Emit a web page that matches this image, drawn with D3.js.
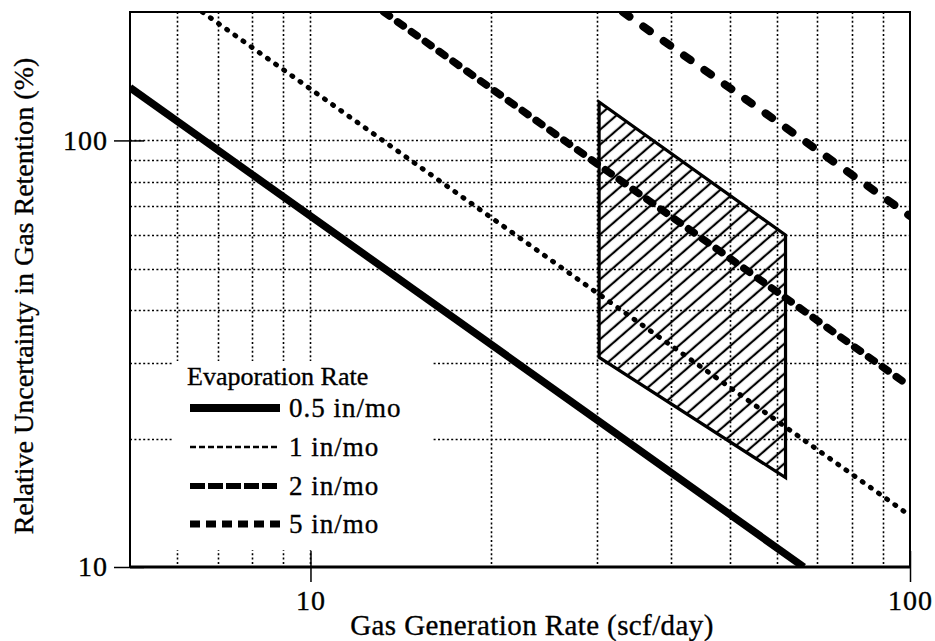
<!DOCTYPE html>
<html>
<head>
<meta charset="utf-8">
<script src="https://cdn.jsdelivr.net/npm/d3@7/dist/d3.min.js"></script>
<style>
  html, body { margin: 0; padding: 0; background: #fff; }
  svg { display: block; }
  text { font-family: "Liberation Serif", "Times New Roman", serif; fill: #000; stroke: #000; stroke-width: 0.35px; }
</style>
</head>
<body>
<svg id="chart" width="935" height="641"></svg>
<script>
// Evaporation rate series: each line is given by its two end points [rate, uncertainty]
const seriesNames = ["0.5 in/mo", "1 in/mo", "2 in/mo", "5 in/mo"];
const series05 = [[5, 133], [66.5, 10]];
const series1  = [[6.6, 200], [100, 13.2]];
const series2  = [[13.25, 200], [100, 26.5]];
const series5  = [[33.2, 200], [100, 66.5]];

// Hatched operating region: x bounds with upper and lower uncertainty at each bound
const regionX     = [30.3, 62];
const regionUpper = [123, 60];
const regionLower = [31, 16.2];

// Axis ticks and grid
const xTickValues = [10, 100];
const yTickValues = [10, 100];
const xGridValues = [6, 7, 8, 9, 10, 20, 30, 40, 50, 60, 70, 80, 90];
const yGridValues = [20, 30, 40, 50, 60, 70, 80, 90, 100];

const xTitle = "Gas Generation Rate (scf/day)";
const yTitle = "Relative Uncertainty in Gas Retention (%)";
const legendTitle = "Evaporation Rate";

const serif = "Liberation Serif";
const svg = d3.select("#chart");
const mLeft = 130, mRight = 910, mTop = 12, mBottom = 567;

const x = d3.scaleLog().domain([5, 100]).range([mLeft, mRight]);
const y = d3.scaleLog().domain([10, 200]).range([mBottom, mTop]);

// Line styles per series
const styles = [
  { width: 7.5, dash: null,    cap: "butt"  },
  { width: 5,   dash: "1,9",   cap: "round" },
  { width: 7.5, dash: "7,10",  cap: "round" },
  { width: 8,   dash: "8,17",  cap: "round" }
];
const legendStyles = [
  { width: 8,   dash: null,   cap: "butt" },
  { width: 2.5, dash: "6,3",  cap: "butt" },
  { width: 6,   dash: "15,3", cap: "butt" },
  { width: 7,   dash: "10,6", cap: "butt" }
];

const defs = svg.append("defs");
defs.append("clipPath").attr("id", "plotClip")
  .append("rect").attr("x", mLeft).attr("y", mTop)
  .attr("width", mRight - mLeft).attr("height", mBottom - mTop);

const hatch = defs.append("pattern")
  .attr("id", "hatch").attr("patternUnits", "userSpaceOnUse")
  .attr("width", 12).attr("height", 11.3)
  .attr("patternTransform", "rotate(-41)");
hatch.append("line").attr("x1", 0).attr("y1", 5.6).attr("x2", 12).attr("y2", 5.6)
  .attr("stroke", "#000").attr("stroke-width", 2.2);

// Grid (dotted, snapped to pixel centres so the dots stay dark)
const snap = v => Math.round(v) + 0.5;
const grid = svg.append("g").attr("stroke", "#000").attr("stroke-width", 1.6)
  .attr("stroke-dasharray", "2,2.4");
grid.selectAll("line.gx").data(xGridValues).join("line").attr("class", "gx")
  .attr("x1", d => snap(x(d))).attr("x2", d => snap(x(d))).attr("y1", mTop).attr("y2", mBottom);
grid.selectAll("line.gy").data(yGridValues).join("line").attr("class", "gy")
  .attr("x1", mLeft).attr("x2", mRight).attr("y1", d => snap(y(d))).attr("y2", d => snap(y(d)));

// Hatched region
const regionPts = [
  [regionX[0], regionUpper[0]], [regionX[1], regionUpper[1]],
  [regionX[1], regionLower[1]], [regionX[0], regionLower[0]]
];
const plot = svg.append("g").attr("clip-path", "url(#plotClip)");
plot.append("path")
  .attr("d", d3.line().x(d => x(d[0])).y(d => y(d[1]))(regionPts) + "Z")
  .attr("fill", "url(#hatch)").attr("stroke", "#000").attr("stroke-width", 3.2)
  .attr("stroke-linejoin", "miter");

// Series lines
const allSeries = [series05, series1, series2, series5];
const line = d3.line().x(d => x(d[0])).y(d => y(d[1]));
plot.selectAll("path.series").data(allSeries).join("path").attr("class", "series")
  .attr("d", d => line(d)).attr("fill", "none").attr("stroke", "#000")
  .attr("stroke-width", (d, i) => styles[i].width)
  .attr("stroke-dasharray", (d, i) => styles[i].dash)
  .attr("stroke-linecap", (d, i) => styles[i].cap);

// Legend
const lg = svg.append("g");
lg.append("rect").attr("x", 174).attr("y", 361).attr("width", 258).attr("height", 189)
  .attr("fill", "#fff");
lg.append("text").attr("x", 187).attr("y", 385).attr("font-family", serif)
  .attr("font-size", 26).text(legendTitle);
const rowY = [408, 447, 486, 524];
seriesNames.forEach((name, i) => {
  lg.append("line").attr("x1", 190).attr("x2", 280).attr("y1", rowY[i]).attr("y2", rowY[i])
    .attr("stroke", "#000").attr("stroke-width", legendStyles[i].width)
    .attr("stroke-dasharray", legendStyles[i].dash)
    .attr("stroke-linecap", legendStyles[i].cap);
  lg.append("text").attr("x", 289).attr("y", rowY[i] + 9).attr("font-family", serif)
    .attr("font-size", 27).attr("letter-spacing", 1).text(name);
});

// Frame
svg.append("rect").attr("x", mLeft).attr("y", mTop).attr("width", mRight - mLeft)
  .attr("height", mBottom - mTop).attr("fill", "none").attr("stroke", "#000").attr("stroke-width", 2);
svg.append("line").attr("x1", mLeft).attr("x2", mRight).attr("y1", mBottom).attr("y2", mBottom)
  .attr("stroke", "#000").attr("stroke-width", 3);

// Axes
const xAxis = svg.append("g").attr("transform", `translate(0,${mBottom})`)
  .call(d3.axisBottom(x).tickValues(xTickValues).tickFormat(d3.format("d"))
    .tickSizeInner(15).tickSizeOuter(0).tickPadding(8));
xAxis.select(".domain").remove();
xAxis.selectAll(".tick line").attr("y1", -16).attr("stroke-width", 1.5);
xAxis.selectAll(".tick text").attr("font-size", 28).attr("font-family", serif)
  .attr("letter-spacing", 1);

const yAxis = svg.append("g").attr("transform", `translate(${mLeft},0)`)
  .call(d3.axisLeft(y).tickValues(yTickValues).tickFormat(d3.format("d"))
    .tickSizeInner(16).tickSizeOuter(0).tickPadding(6));
yAxis.select(".domain").remove();
yAxis.selectAll(".tick line").attr("x1", 14).attr("stroke-width", 1.5);
yAxis.selectAll(".tick text").attr("font-size", 28).attr("font-family", serif)
  .attr("letter-spacing", 1);

// Titles
svg.append("text").attr("x", 532).attr("y", 635).attr("font-family", serif)
  .attr("text-anchor", "middle").attr("font-size", 29).attr("letter-spacing", 0.4).text(xTitle);
svg.append("text").attr("transform", `translate(33,296) rotate(-90)`).attr("font-family", serif)
  .attr("text-anchor", "middle").attr("font-size", 28).text(yTitle);
</script>
</body>
</html>
